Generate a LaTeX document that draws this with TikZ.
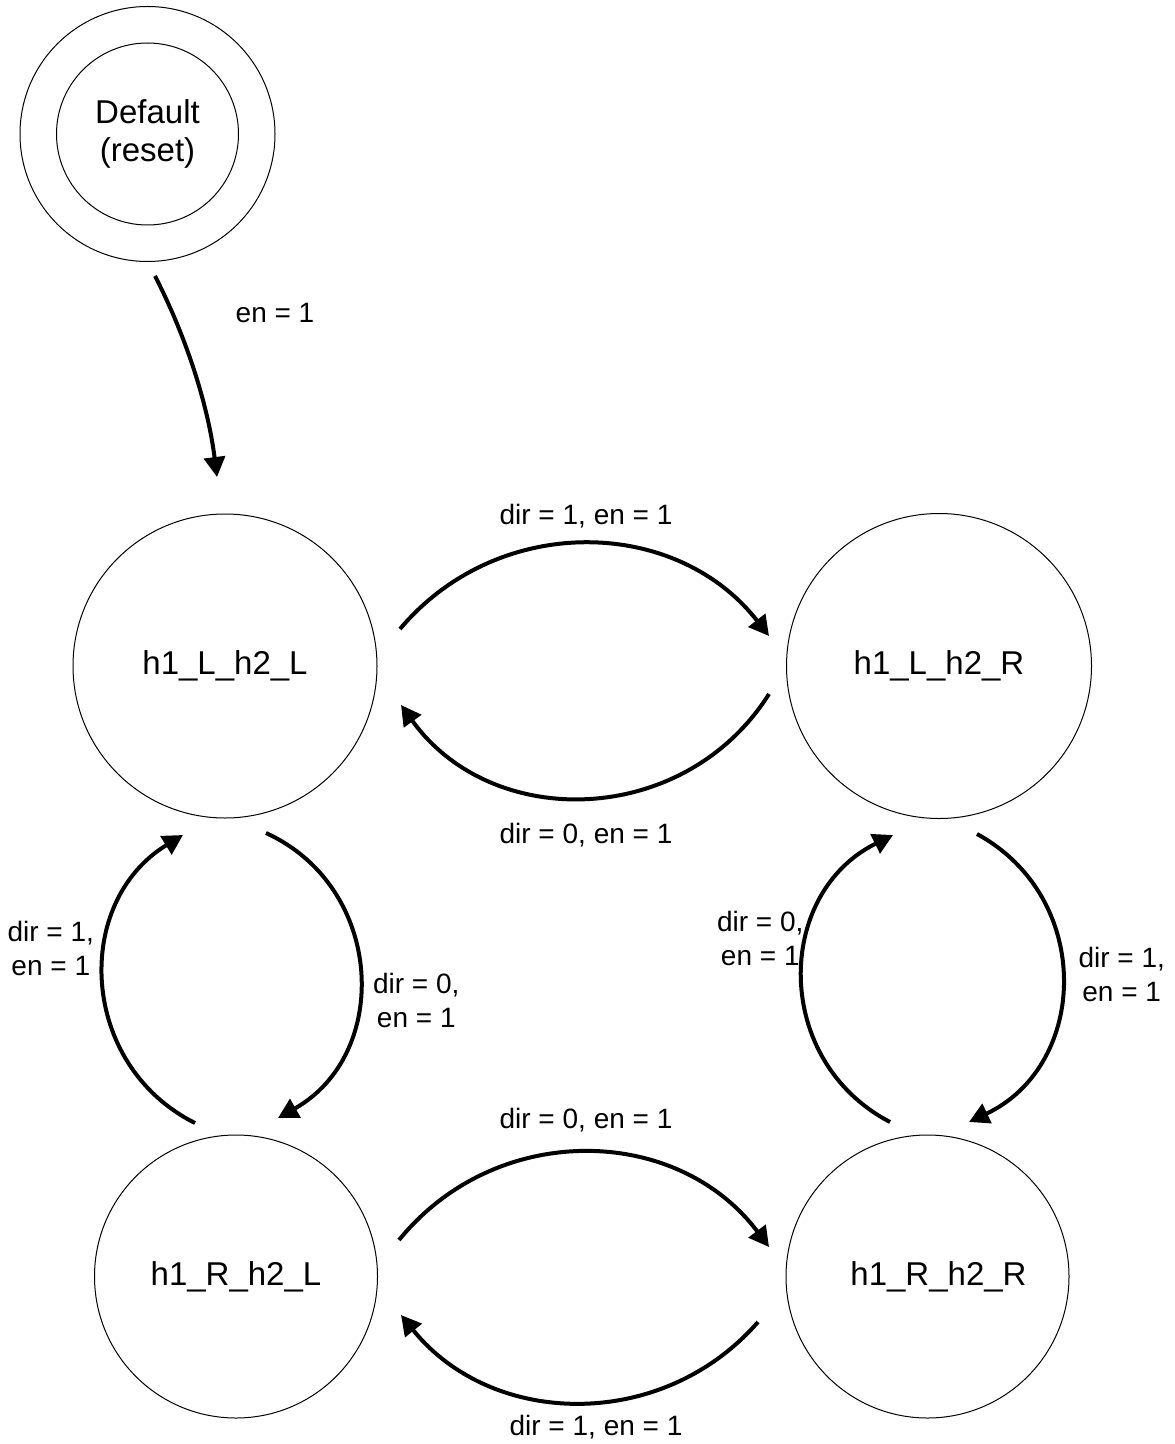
\documentclass[tikz,border=0pt]{standalone}
\usepackage{fontspec}
\setmainfont{Liberation Sans}
\usetikzlibrary{arrows.meta}
\begin{document}
\begin{tikzpicture}[x=0.5pt, y=0.5pt,
  state/.style={circle, draw, line width=0.5pt, inner sep=0pt,
    font=\fontsize{16.5}{19}\selectfont, align=center},
  trans/.style={line width=2pt, -{Triangle[length=10pt,width=10.5pt]}},
  cond/.style={font=\fontsize{14}{17}\selectfont, inner sep=0pt, align=center}]
\useasboundingbox (0,0) rectangle (1174,-1444);

% states
\node[state, minimum size=91pt] (def) at (147.5,-134) {Default\\(reset)};
\draw[line width=0.5pt] (def.center) circle[radius=63.75pt];
\node[state, minimum size=152pt]   (LL) at (225,-666)      {h1\_L\_h2\_L};
\node[state, minimum size=152.5pt] (LR) at (939,-666)      {h1\_L\_h2\_R};
\node[state, minimum size=141.5pt] (RL) at (236,-1276.5)   {h1\_R\_h2\_L};
\node[state, minimum size=141.5pt] (RR) at (927.5,-1276.5) {\hspace*{11pt}h1\_R\_h2\_R};

% end points of the transitions
\coordinate (e0s) at (155,-276);  \coordinate (e0t) at (217,-477);
\coordinate (t1s) at (400,-629);  \coordinate (t1t) at (769,-636);
\coordinate (t2s) at (769,-694);  \coordinate (t2t) at (401,-705);
\coordinate (v1s) at (195,-1123); \coordinate (v1t) at (183,-835);
\coordinate (v2s) at (266,-833);  \coordinate (v2t) at (278,-1118);
\coordinate (v3s) at (890,-1122); \coordinate (v3t) at (893,-835);
\coordinate (v4s) at (977,-834);  \coordinate (v4t) at (969,-1122);
\coordinate (b1s) at (399,-1240); \coordinate (b1t) at (769,-1247);
\coordinate (b2s) at (758,-1322); \coordinate (b2t) at (401,-1315);

% transitions
\draw[trans] (e0s) to[bend left=10, looseness=0.86] (e0t);
\draw[trans] (t1s) to[bend left=51, looseness=1.05] (t1t);
\draw[trans] (t2s) to[bend left=56, looseness=1.09] (t2t);
\draw[trans] (v1s) to[bend left=61, looseness=1.15] (v1t);
\draw[trans] (v2s) to[bend left=63, looseness=1.17] (v2t);
\draw[trans] (v3s) to[bend left=63, looseness=1.18] (v3t);
\draw[trans] (v4s) to[bend left=63, looseness=1.18] (v4t);
\draw[trans] (b1s) to[bend left=52, looseness=1.06] (b1t);
\draw[trans] (b2s) to[bend left=50, looseness=1.04] (b2t);

% conditions
\node[cond, anchor=base] (c0) at (275,-323)  {en = 1};
\node[cond, anchor=base] (c1) at (586,-524)  {dir = 1, en = 1};
\node[cond, anchor=base] (c2) at (586,-843)  {dir = 0, en = 1};
\node[cond, anchor=base] (c3) at (586,-1128) {dir = 0, en = 1};
\node[cond, anchor=base] (c4) at (596,-1435) {dir = 1, en = 1};
\node[cond] (c5) at (50.8,-948.5)   {dir = 1,\\en = 1};
\node[cond] (c6) at (416.3,-1000.8) {dir = 0,\\en = 1};
\node[cond] (c7) at (760.3,-938.5)  {dir = 0,\\en = 1};
\node[cond] (c8) at (1121.7,-974.8) {dir = 1,\\en = 1};
\end{tikzpicture}
\end{document}
